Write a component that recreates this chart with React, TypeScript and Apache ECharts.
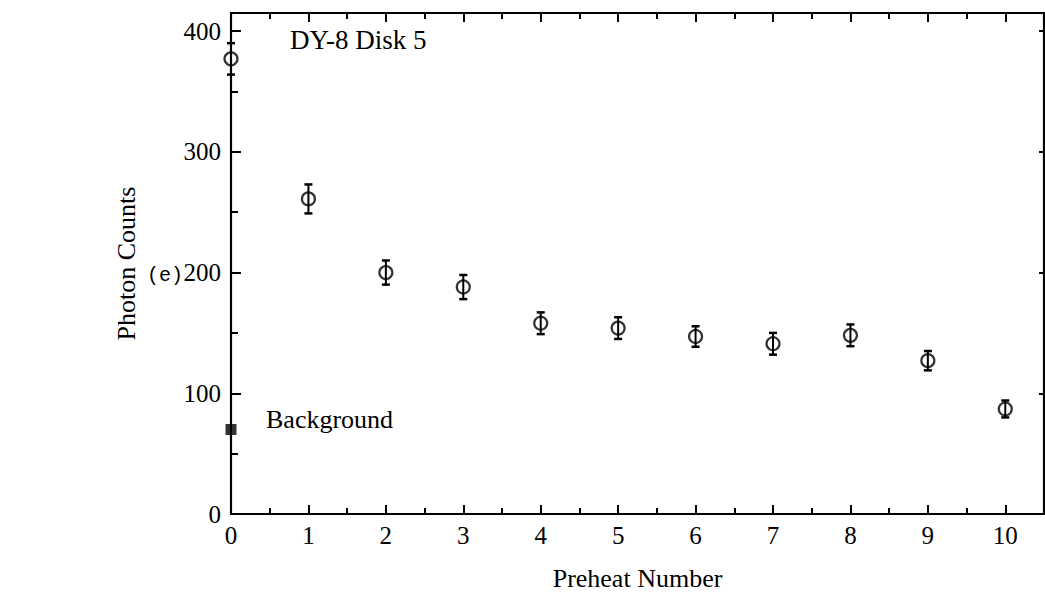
import React, { useEffect, useRef } from "react";
import * as echarts from "echarts";

const preheatNumbers = [0, 1, 2, 3, 4, 5, 6, 7, 8, 9, 10];
const photonCounts = [377, 261, 200, 188, 158, 154, 147, 141, 148, 127, 87];
const countErrors = [13, 12, 10, 10, 9, 9, 8.5, 9, 9, 8, 7];
const backgroundPoint = [[0, 70]];
const yTickLabels = [0, 100, 200, 300, 400];

const FONT = "Liberation Serif";

export default function App() {
  const ref = useRef<HTMLDivElement>(null);

  useEffect(() => {
    if (!ref.current) return;
    const chart = echarts.init(ref.current, undefined, { renderer: "svg" });

    const points = preheatNumbers.map((x, i) => [x, photonCounts[i]]);
    const errData = preheatNumbers.map((x, i) => [x, photonCounts[i], countErrors[i]]);

    const axisLine = { show: true, onZero: false, lineStyle: { color: "#000", width: 2.2 } };
    const tickStyle = { color: "#000", width: 2 };

    chart.setOption({
      animation: false,
      backgroundColor: "#fff",
      grid: { left: 231, right: 1, top: 13, bottom: 78, containLabel: false },
      xAxis: [
        {
          type: "value",
          position: "bottom",
          min: 0,
          max: 10.5,
          interval: 1,
          axisLine,
          axisTick: { show: true, inside: true, length: 9, lineStyle: tickStyle },
          minorTick: { show: true, splitNumber: 2, length: 6, lineStyle: tickStyle },
          splitLine: { show: false },
          minorSplitLine: { show: false },
          axisLabel: {
            show: true,
            margin: 9,
            fontFamily: FONT,
            fontSize: 25,
            color: "#000",
            showMaxLabel: false,
            formatter: (v: number) => (Number.isInteger(v) && v <= 10 ? String(v) : ""),
          },
          name: "Preheat Number",
          nameLocation: "middle",
          nameGap: 51,
          nameTextStyle: { fontFamily: FONT, fontSize: 26, color: "#000" },
        },
        {
          type: "value",
          position: "top",
          min: 0,
          max: 10.5,
          interval: 1,
          axisLine,
          axisTick: { show: true, inside: true, length: 9, lineStyle: tickStyle },
          minorTick: { show: true, splitNumber: 2, length: 6, lineStyle: tickStyle },
          splitLine: { show: false },
          minorSplitLine: { show: false },
          axisLabel: { show: false },
        },
      ],
      yAxis: [
        {
          type: "value",
          position: "left",
          min: 0,
          max: 415,
          interval: 100,
          axisLine,
          axisTick: { show: true, inside: true, length: 10, lineStyle: tickStyle },
          minorTick: { show: true, splitNumber: 2, length: 7, lineStyle: tickStyle },
          splitLine: { show: false },
          minorSplitLine: { show: false },
          axisLabel: {
            show: true,
            margin: 10,
            fontFamily: FONT,
            fontSize: 25,
            color: "#000",
            formatter: (v: number) => (yTickLabels.includes(v) ? String(v) : ""),
          },
          name: "Photon Counts",
          nameLocation: "middle",
          nameGap: 92,
          nameTextStyle: { fontFamily: FONT, fontSize: 26, color: "#000" },
        },
        {
          type: "value",
          position: "right",
          min: 0,
          max: 415,
          interval: 100,
          axisLine,
          axisTick: { show: true, inside: true, length: 5, lineStyle: tickStyle },
          splitLine: { show: false },
          axisLabel: { show: false },
        },
      ],
      graphic: [
        {
          type: "text",
          left: 290,
          top: 26,
          style: { text: "DY-8 Disk 5", fontFamily: FONT, fontSize: 27, fill: "#000" },
        },
        {
          type: "text",
          left: 266,
          top: 406,
          style: { text: "Background", fontFamily: FONT, fontSize: 26, fill: "#000" },
        },
        {
          type: "text",
          left: 147,
          top: 265,
          style: { text: "(e)", fontFamily: "Liberation Mono", fontSize: 20, fill: "#000" },
        },
      ],
      series: [
        {
          type: "scatter",
          xAxisIndex: 0,
          yAxisIndex: 0,
          data: points,
          symbol: "circle",
          symbolSize: 13,
          clip: false,
          itemStyle: { color: "rgba(255,255,255,0)", borderColor: "#000", borderWidth: 2.2 },
          z: 3,
        },
        {
          type: "custom",
          xAxisIndex: 0,
          yAxisIndex: 0,
          data: errData,
          clip: false,
          encode: { x: 0, y: 1 },
          z: 4,
          renderItem: (params: any, api: any) => {
            const x = api.value(0);
            const y = api.value(1);
            const e = api.value(2);
            const top = api.coord([x, y + e]);
            const bot = api.coord([x, y - e]);
            const hw = 4;
            const style = { stroke: "#000", lineWidth: 2 };
            return {
              type: "group",
              children: [
                { type: "line", shape: { x1: top[0], y1: top[1], x2: bot[0], y2: bot[1] }, style },
                { type: "line", shape: { x1: top[0] - hw, y1: top[1], x2: top[0] + hw, y2: top[1] }, style: { stroke: "#000", lineWidth: 2.5 } },
                { type: "line", shape: { x1: bot[0] - hw, y1: bot[1], x2: bot[0] + hw, y2: bot[1] }, style: { stroke: "#000", lineWidth: 2.5 } },
              ],
            };
          },
        },
        {
          type: "scatter",
          xAxisIndex: 0,
          yAxisIndex: 0,
          data: backgroundPoint,
          symbol: "rect",
          symbolSize: 11,
          clip: false,
          itemStyle: { color: "#000" },
          z: 5,
        },
      ],
    });

    return () => {
      chart.dispose();
    };
  }, []);

  return (
    <div
      ref={ref}
      style={{ position: "fixed", left: 0, top: 0, width: 1045, height: 596, background: "#fff" }}
    />
  );
}
